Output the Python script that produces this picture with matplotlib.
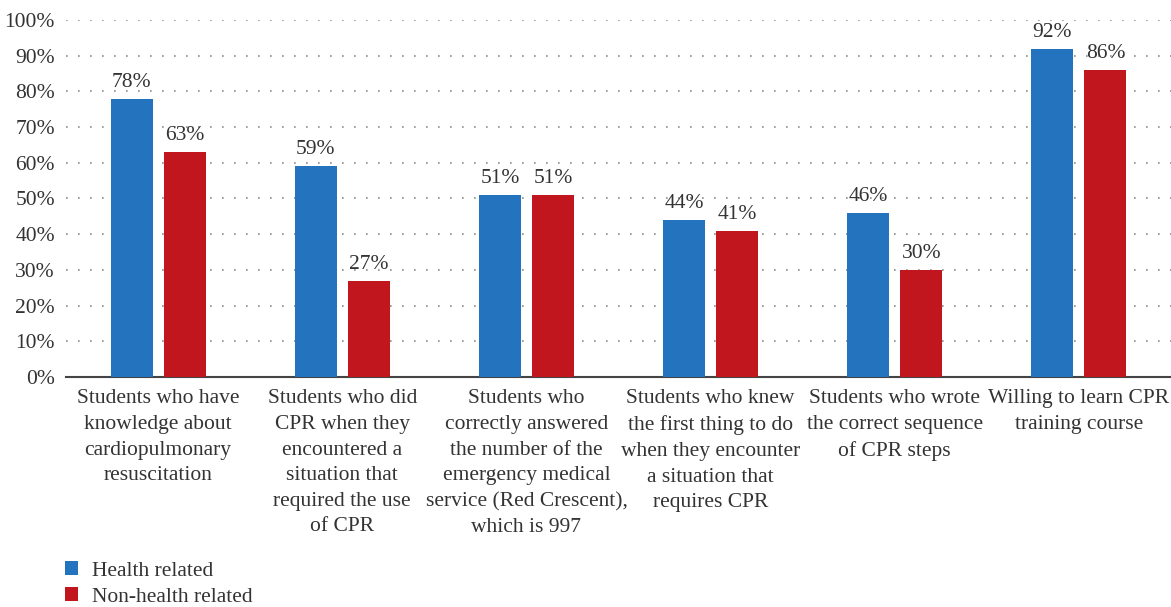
import matplotlib.pyplot as plt
import numpy as np

categories = [
    "Students who have\nknowledge about\ncardiopulmonary\nresuscitation",
    "Students who did\nCPR when they\nencountered a\nsituation that\nrequired the use\nof CPR",
    "Students who\ncorrectly answered\nthe number of the\nemergency medical\nservice (Red Crescent),\nwhich is 997",
    "Students who knew\nthe first thing to do\nwhen they encounter\na situation that\nrequires CPR",
    "Students who wrote\nthe correct sequence\nof CPR steps",
    "Willing to learn CPR\ntraining course",
]
health = [78, 59, 51, 44, 46, 92]
non_health = [63, 27, 51, 41, 30, 86]
series_names = ["Health related", "Non-health related"]

BLUE = "#2373be"
RED = "#c1161e"
TEXT = "#333333"

plt.rcParams["font.family"] = ["Liberation Serif", "DejaVu Serif"]
plt.rcParams["font.size"] = 15.5

fig = plt.figure(figsize=(11.71, 6.07), dpi=100)
ax = fig.add_axes([0.0564, 0.379, 0.9436, 0.588])

x = np.arange(len(categories))
w = 0.228
off = 0.144
b1 = ax.bar(x - off, health, w, color=BLUE, label=series_names[0], zorder=3)
b2 = ax.bar(x + off, non_health, w, color=RED, label=series_names[1], zorder=3)

for bars, vals in ((b1, health), (b2, non_health)):
    for rect, v in zip(bars, vals):
        ax.annotate(f"{v}%", (rect.get_x() + rect.get_width() / 2, v),
                    xytext=(0, 5), textcoords="offset points",
                    ha="center", va="bottom", color=TEXT)

ax.set_xlim(-0.5, len(categories) - 0.5)
ax.set_ylim(0, 100)
ax.set_yticks(range(0, 101, 10))
ax.set_yticklabels([f"{t}%" for t in range(0, 101, 10)], color=TEXT)
ax.set_xticks(x)
ax.set_xticklabels(categories, color=TEXT, linespacing=1.47)
ax.tick_params(axis="x", length=0, pad=9)
ax.tick_params(axis="y", length=0, pad=8)

# dotted horizontal guides
ax.yaxis.grid(True, color="#8c8c8c", linestyle=(0, (1, 6.2)), linewidth=1.2, zorder=0)
for s in ("left", "right", "top"):
    ax.spines[s].set_visible(False)
ax.spines["bottom"].set_color("#444444")
ax.spines["bottom"].set_linewidth(1.5)

fig.legend(handles=[b1, b2], labels=series_names, loc="lower left",
           bbox_to_anchor=(0.039, -0.032), frameon=False, handlelength=0.62,
           handleheight=0.62, handletextpad=0.65, labelspacing=0.32,
           labelcolor=TEXT)

fig.savefig("out.png", dpi=100)
